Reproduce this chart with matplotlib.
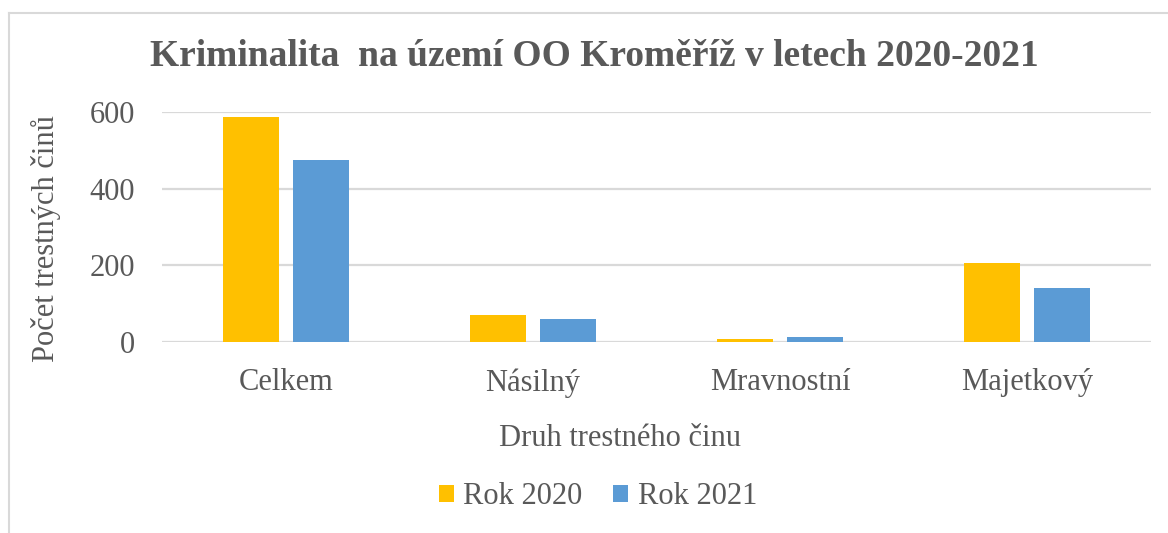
import matplotlib
matplotlib.use("Agg")
import matplotlib.pyplot as plt
import numpy as np

# data
kategorie = ["Celkem", "Násilný", "Mravnostní", "Majetkový"]
rok_2020 = [588, 70, 8, 205]
rok_2021 = [474, 59, 12, 141]
serie = ["Rok 2020", "Rok 2021"]
y_ticks = [0, 200, 400, 600]

W, H = 1168, 533
plt.rcParams['font.family'] = ['Liberation Serif', 'DejaVu Serif']
txt = '#595959'

fig = plt.figure(figsize=(W / 100, H / 100), dpi=100)
ax = fig.add_axes([162.5 / W, 1 - 342 / H, 988 / W, 230 / H])

x = np.arange(len(kategorie))
sirka = 0.227
posun = 0.142
ax.bar(x - posun, rok_2020, sirka, color='#FFC000', label=serie[0], zorder=3)
ax.bar(x + posun, rok_2021, sirka, color='#5B9BD5', label=serie[1], zorder=3)

ax.set_xlim(-0.5, len(kategorie) - 0.5)
ax.set_ylim(0, 600)
ax.set_yticks(y_ticks)
ax.set_xticks(x)
ax.set_xticklabels(kategorie)
ax.tick_params(axis='both', length=0, labelsize=22, colors=txt)
ax.tick_params(axis='y', pad=20)
ax.tick_params(axis='x', pad=19)
ax.grid(axis='y', color='#D9D9D9', linewidth=1.6, zorder=0)
for s in ax.spines.values():
    s.set_visible(False)

fig.text(594 / W, 1 - 57 / H, "Kriminalita  na území OO Kroměříž v letech 2020-2021",
         ha='center', va='center', fontsize=27, fontweight='bold', color=txt)
fig.text(46 / W, 1 - 239 / H, "Počet trestných činů", rotation=90,
         ha='center', va='center', fontsize=22, color=txt)
fig.text(620 / W, 1 - 438 / H, "Druh trestného činu",
         ha='center', va='center', fontsize=22, color=txt)

fig.legend(loc='center', bbox_to_anchor=(598 / W, 1 - 497 / H), ncol=2, frameon=False,
           fontsize=22, labelcolor=txt, handlelength=0.5, handleheight=0.5,
           handletextpad=0.3, columnspacing=1.0)

# chart border
fig.add_artist(plt.Line2D([9 / W, 1], [1 - 12.5 / H, 1 - 12.5 / H], color='#D9D9D9', lw=1.5))
fig.add_artist(plt.Line2D([9 / W, 9 / W], [0, 1 - 12.5 / H], color='#D9D9D9', lw=1.5))

fig.savefig("out.png", dpi=100)
